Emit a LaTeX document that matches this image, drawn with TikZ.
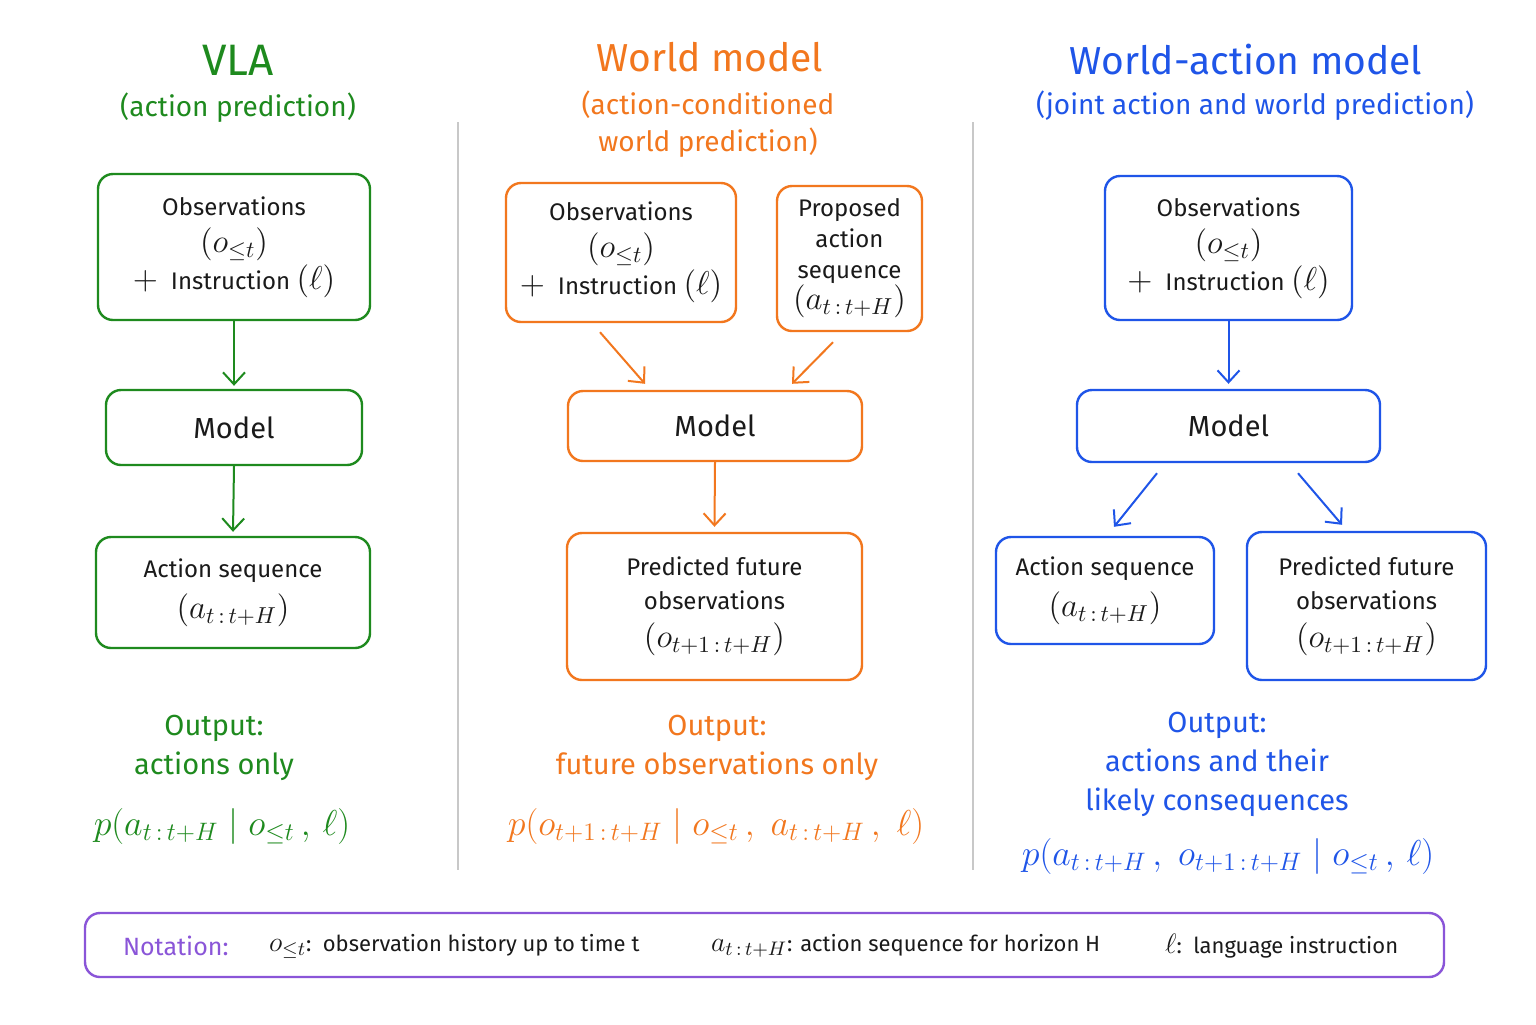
\RequirePackage{fix-cm}
\documentclass[tikz,border=0pt]{standalone}
\usepackage{fontspec}
\setmainfont{Fira Sans}
\usetikzlibrary{arrows.meta}
\definecolor{vgreen}{HTML}{1E8A1E}
\definecolor{worange}{HTML}{F2771E}
\definecolor{ablue}{HTML}{1F55E8}
\definecolor{npurple}{HTML}{8A55D8}
\definecolor{divgray}{HTML}{C8C8C8}
\definecolor{inkblack}{HTML}{1A1A1A}
\newcommand{\bm}[1]{{\fontsize{16.5}{18}\selectfont$#1$}}
\newcommand{\nm}[1]{{\fontsize{14}{15}\selectfont$#1$}}
\newcommand{\tH}{t\,:\,t+H}
\newcommand{\toH}{t+1\,:\,t+H}
\tikzset{
  box/.style={draw, rounded corners=7.5pt, line width=1.2pt, align=center, inner sep=0pt, fill=white, text=inkblack, font=\fontsize{12}{18.5}\selectfont},
  modelbox/.style={box, font=\fontsize{14.5}{18}\selectfont},
  arr/.style={-{Straight Barb[length=6pt,width=11pt]}, line width=1pt},
  title/.style={font=\fontsize{19.5}{24}\selectfont},
  subtitle/.style={font=\fontsize{14}{18.5}\selectfont, align=center},
  outtext/.style={font=\fontsize{14.5}{19.5}\selectfont, align=center},
  formula/.style={font=\fontsize{18}{22}\selectfont},
  notetext/.style={font=\fontsize{11}{14}\selectfont, text=inkblack, anchor=west},
}
\begin{document}
\begin{tikzpicture}[x=0.5pt,y=-0.5pt]
\useasboundingbox[fill=white] (0,0) rectangle (1536,1024);

% dividers
\coordinate (d1a) at (458,122); \coordinate (d1b) at (458,870);
\coordinate (d2a) at (973,122); \coordinate (d2b) at (973,870);
\draw[divgray, line width=0.8pt] (d1a) -- (d1b);
\draw[divgray, line width=0.8pt] (d2a) -- (d2b);

% ---------- VLA ----------
\begin{scope}[vgreen]
\node[title, text=vgreen, font=\fontsize{22}{26}\selectfont] (vt) at (238,60) {VLA};
\node[subtitle, text=vgreen] (vst) at (238,108) {(action prediction)};
\node[box, minimum width=136pt, minimum height=73pt] (vobs) at (234,247)
  {Observations\\ \bm{(o_{\le t})}\\ \bm{+}\; Instruction \bm{(\ell)}};
\node[modelbox, minimum width=128pt, minimum height=37.5pt] (vmodel) at (234,427.5) {Model};
\node[box, minimum width=137pt, minimum height=55.5pt] (vact) at (233,592.5)
  {Action sequence\\[2pt] \bm{(a_{\tH})}};
\draw[arr] (vobs.south) -- ([yshift=1.5pt]vmodel.north);
\draw[arr] (vmodel.south) -- ([yshift=2pt]vact.north);
\node[outtext, text=vgreen] (vout) at (214,748) {Output:\\ actions only};
\node[formula, text=vgreen] (vf) at (222,826) {$p(a_{\tH}\mid o_{\le t}\,,\, \ell)$};
\end{scope}

% ---------- World model ----------
\begin{scope}[worange]
\node[title, text=worange] (wt) at (710,57) {World model};
\node[subtitle, text=worange] (wst) at (708,124) {(action-conditioned\\ world prediction)};
\node[box, minimum width=115pt, minimum height=69.5pt] (wobs) at (621,252.5)
  {Observations\\ \bm{(o_{\le t})}\\ \bm{+}\; Instruction \bm{(\ell)}};
\node[box, minimum width=72.5pt, minimum height=72.5pt, font=\fontsize{12}{15.5}\selectfont] (wprop) at (849.5,258.5)
  {Proposed\\ action\\ sequence\\ \bm{(a_{\tH})}};
\node[modelbox, minimum width=147pt, minimum height=35pt] (wmodel) at (715,426) {Model};
\node[box, minimum width=147.5pt, minimum height=73.5pt, font=\fontsize{12}{17}\selectfont] (wpred) at (714.5,606.5)
  {Predicted future\\ observations\\[2pt] \bm{(o_{\toH})}};
\draw[arr] ([xshift=-10.5pt,yshift=-4.5pt]wobs.south) -- ([xshift=-35pt,yshift=3pt]wmodel.north);
\draw[arr] ([xshift=-8.25pt,yshift=-5pt]wprop.south) -- ([xshift=38.5pt,yshift=3pt]wmodel.north);
\draw[arr] (wmodel.south) -- ([yshift=2.5pt]wpred.north);
\node[outtext, text=worange] (wout) at (717,748) {Output:\\ future observations only};
\node[formula, text=worange] (wf) at (716,826) {$p(o_{\toH}\mid o_{\le t}\,,\; a_{\tH}\,,\; \ell)$};
\end{scope}

% ---------- World-action model ----------
\begin{scope}[ablue]
\node[title, text=ablue] (at) at (1246,60) {World-action model};
\node[subtitle, text=ablue] (ast) at (1255,106) {(joint action and world prediction)};
\node[box, minimum width=123.5pt, minimum height=72pt] (aobs) at (1228.5,248)
  {Observations\\ \bm{(o_{\le t})}\\ \bm{+}\; Instruction \bm{(\ell)}};
\node[modelbox, minimum width=151.5pt, minimum height=36pt] (amodel) at (1228.5,426) {Model};
\node[box, minimum width=109pt, minimum height=53.5pt] (aact) at (1105,590.5)
  {Action sequence\\[2pt] \bm{(a_{\tH})}};
\node[box, minimum width=119.5pt, minimum height=74pt, font=\fontsize{12}{17}\selectfont] (apred) at (1366.5,606)
  {Predicted future\\ observations\\[2pt] \bm{(o_{\toH})}};
\draw[arr] (aobs.south) -- ([yshift=2.5pt]amodel.north);
\draw[arr] ([xshift=-35.75pt,yshift=-5pt]amodel.south) -- ([xshift=4.5pt,yshift=4.5pt]aact.north);
\draw[arr] ([xshift=34.75pt,yshift=-5pt]amodel.south) -- ([xshift=-12.25pt,yshift=3pt]apred.north);
\node[outtext, text=ablue] (aout) at (1217,764) {Output:\\ actions and their\\ likely consequences};
\node[formula, text=ablue] (af) at (1228,856) {$p(a_{\tH}\,,\; o_{\toH}\mid o_{\le t}\,,\, \ell)$};
\end{scope}

% ---------- Notation ----------
\node[draw=npurple, line width=1.2pt, rounded corners=7.5pt, minimum width=679.5pt, minimum height=32pt] (nbox) at (764.5,945) {};
\node[font=\fontsize{12.5}{15}\selectfont, text=npurple, anchor=west] (nlab) at (116,946) {Notation:};
\node[notetext] (n1) at (262,946) {\nm{o_{\le t}}: \,observation history up to time t};
\node[notetext] (n2) at (704,946) {\nm{a_{\tH}}: action sequence for horizon H};
\node[notetext] (n3) at (1158,946) {\nm{\ell}: \,language instruction};
\end{tikzpicture}
\end{document}
